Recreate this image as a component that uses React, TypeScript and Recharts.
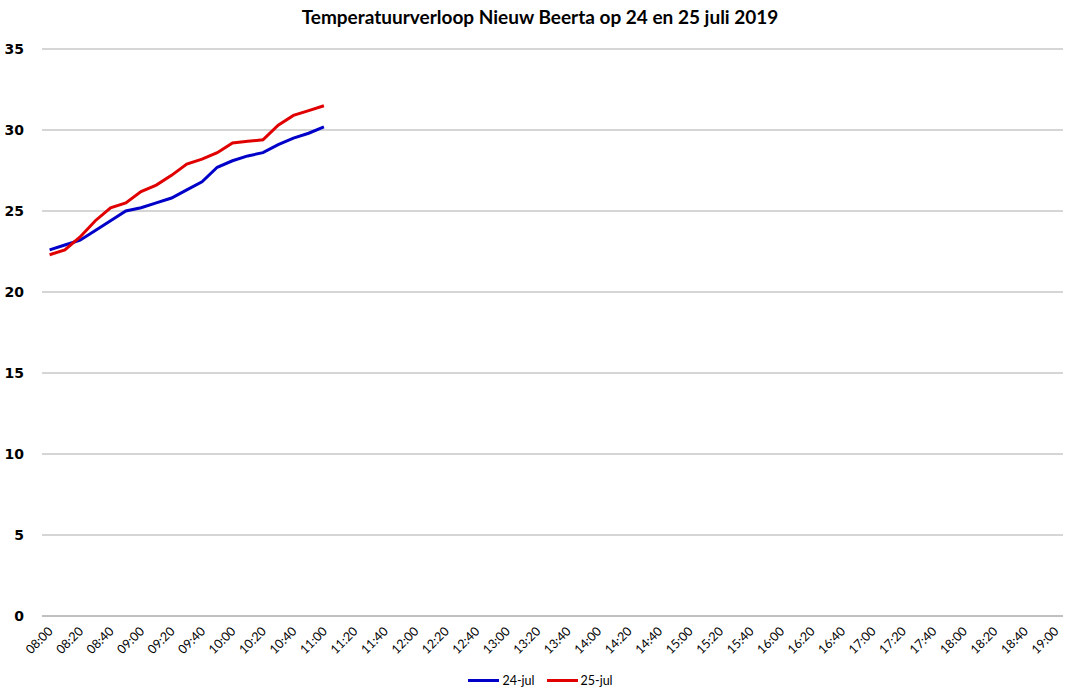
import { CartesianGrid, Legend, Line, LineChart, XAxis, YAxis } from 'recharts'

// time slots every 10 minutes, 08:00 .. 19:00
const TIMES = [
  '08:00', '08:10', '08:20', '08:30', '08:40', '08:50', '09:00', '09:10', '09:20', '09:30', '09:40', '09:50',
  '10:00', '10:10', '10:20', '10:30', '10:40', '10:50', '11:00', '11:10', '11:20', '11:30', '11:40', '11:50',
  '12:00', '12:10', '12:20', '12:30', '12:40', '12:50', '13:00', '13:10', '13:20', '13:30', '13:40', '13:50',
  '14:00', '14:10', '14:20', '14:30', '14:40', '14:50', '15:00', '15:10', '15:20', '15:30', '15:40', '15:50',
  '16:00', '16:10', '16:20', '16:30', '16:40', '16:50', '17:00', '17:10', '17:20', '17:30', '17:40', '17:50',
  '18:00', '18:10', '18:20', '18:30', '18:40', '18:50', '19:00',
]

const JUL_24 = [
  22.6, 22.9, 23.2, 23.8, 24.4, 25.0, 25.2, 25.5, 25.8, 26.3, 26.8, 27.7, 28.1, 28.4, 28.6, 29.1, 29.5, 29.8, 30.2,
]

const JUL_25 = [
  22.3, 22.6, 23.4, 24.4, 25.2, 25.5, 26.2, 26.6, 27.2, 27.9, 28.2, 28.6, 29.2, 29.3, 29.4, 30.3, 30.9, 31.2, 31.5,
]

const Y_TICKS = [0, 5, 10, 15, 20, 25, 30, 35]

const FONT = 'Lato, "Open Sans", sans-serif'

const data = TIMES.map((time, i) => ({
  time,
  jul24: i < JUL_24.length ? JUL_24[i] : null,
  jul25: i < JUL_25.length ? JUL_25[i] : null,
}))

function TimeTick({ x, y, payload }: any) {
  return (
    <g transform={`translate(${x + 4},${y + 14})`}>
      <text x={0} y={0} textAnchor="end" transform="rotate(-45)" fontSize={12.5} fontFamily={FONT} fill="#000">
        {payload.value}
      </text>
    </g>
  )
}

function TempTick({ x, y, payload }: any) {
  return (
    <text
      x={x}
      y={y}
      dy="0.35em"
      textAnchor="end"
      fontSize={14}
      fontWeight={700}
      fontFamily='"DejaVu Sans", sans-serif'
      fill="#000"
    >
      {payload.value}
    </text>
  )
}

function LegendContent({ payload }: any) {
  return (
    <div
      style={{
        display: 'flex',
        justifyContent: 'center',
        alignItems: 'center',
        height: 20,
        paddingLeft: 18,
        fontFamily: FONT,
        fontSize: 12.5,
      }}
    >
      {(payload || []).map((entry: any) => (
        <div key={entry.value} style={{ display: 'flex', alignItems: 'center', margin: '0 6px' }}>
          <span style={{ display: 'inline-block', width: 31, height: 3, background: entry.color, marginRight: 3 }} />
          <span>{entry.value}</span>
        </div>
      ))}
    </div>
  )
}

export default function App() {
  return (
    <div style={{ position: 'absolute', left: 0, top: 0, width: 1067, height: 692, background: '#fff' }}>
      <div
        style={{
          position: 'absolute',
          top: 5,
          left: 0,
          width: 1080,
          textAlign: 'center',
          fontFamily: FONT,
          fontWeight: 700,
          fontSize: 19,
          color: '#000',
        }}
      >
        Temperatuurverloop Nieuw Beerta op 24 en 25 juli 2019
      </div>
      <LineChart width={1067} height={692} data={data} margin={{ top: 49, right: 4, left: 0, bottom: 2 }}>
        <CartesianGrid vertical={false} stroke="#acacac" />
        <XAxis
          dataKey="time"
          scale="band"
          interval={1}
          tickLine={false}
          tickSize={0}
          axisLine={{ stroke: '#acacac' }}
          tick={<TimeTick />}
          height={54}
        />
        <YAxis
          domain={[0, 35]}
          ticks={Y_TICKS}
          width={42}
          axisLine={false}
          tickLine={false}
          tickSize={0}
          tickMargin={18}
          tick={<TempTick />}
        />
        <Legend verticalAlign="bottom" content={<LegendContent />} />
        <Line
          type="linear"
          dataKey="jul24"
          name="24-jul"
          stroke="#0000c8"
          strokeWidth={3}
          dot={false}
          isAnimationActive={false}
        />
        <Line
          type="linear"
          dataKey="jul25"
          name="25-jul"
          stroke="#e00000"
          strokeWidth={3}
          dot={false}
          isAnimationActive={false}
        />
      </LineChart>
    </div>
  )
}
